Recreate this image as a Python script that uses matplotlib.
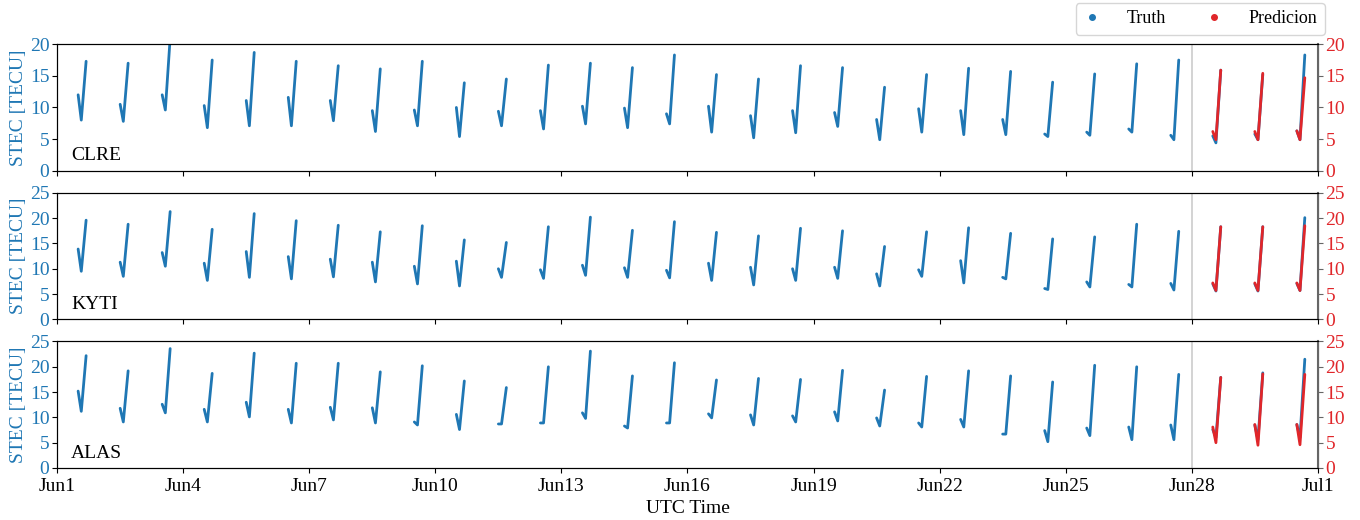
import matplotlib
matplotlib.use("Agg")
import matplotlib.pyplot as plt
from matplotlib.lines import Line2D
import numpy as np

plt.rcParams['font.family'] = ['Liberation Serif', 'DejaVu Serif']

######### data
########################################
stations = ["CLRE", "KYTI", "ALAS"]
ylims = [20, 25, 25]

# pass times inside each day (fraction of the day): start, dip, peak
pass_times = [0.50, 0.575, 0.69]

# truth arcs, one value per day (Jun1 .. Jun30)
clre_start = [12.0, 10.5, 12.0, 10.3, 11.1, 11.6, 11.1, 9.5, 9.6, 10.0,
              9.4, 9.5, 10.2, 9.9, 9.0, 10.2, 8.7, 9.5, 9.2, 8.1,
              9.8, 9.5, 8.1, 5.8, 6.1, 6.6, 5.6, 5.5, 5.8, 6.3]
clre_min = [8.0, 7.8, 9.6, 6.8, 7.1, 7.1, 7.9, 6.2, 7.1, 5.4,
            7.1, 6.6, 7.4, 6.8, 7.4, 6.1, 5.2, 6.0, 7.0, 4.9,
            6.1, 5.7, 5.7, 5.4, 5.6, 6.1, 4.9, 4.4, 4.9, 4.9]
clre_peak = [17.3, 17.0, 21.0, 17.5, 18.7, 17.3, 16.6, 16.1, 17.3, 13.9,
             14.5, 16.7, 17.0, 16.3, 18.3, 15.2, 14.5, 16.6, 16.3, 13.2,
             15.2, 16.2, 15.7, 14.0, 15.3, 16.9, 17.5, 15.9, 15.2, 18.3]

kyti_start = [13.9, 11.3, 13.2, 11.1, 13.4, 12.4, 11.9, 11.3, 10.5, 11.5,
              10.0, 9.8, 10.7, 10.2, 9.7, 11.1, 10.3, 10.0, 10.3, 9.0,
              9.8, 11.6, 8.3, 6.1, 7.4, 6.9, 7.1, 7.0, 7.0, 7.1]
kyti_min = [9.5, 8.5, 10.5, 7.7, 8.3, 8.0, 8.4, 7.4, 7.0, 6.6,
            8.3, 8.1, 8.7, 8.3, 8.2, 7.7, 6.8, 7.7, 8.1, 6.6,
            8.5, 7.2, 8.0, 5.9, 6.4, 6.4, 5.8, 5.6, 5.6, 5.7]
kyti_peak = [19.6, 18.8, 21.3, 17.8, 20.9, 19.5, 18.6, 17.3, 18.5, 15.7,
             15.2, 18.3, 20.2, 17.6, 19.3, 17.2, 16.5, 18.0, 17.5, 14.4,
             17.3, 18.1, 17.0, 15.9, 16.3, 18.8, 17.4, 18.3, 18.3, 20.1]

alas_start = [15.2, 11.8, 12.6, 11.6, 13.0, 11.6, 12.0, 11.9, 9.1, 10.6,
              8.7, 8.9, 10.9, 8.3, 8.9, 10.7, 10.5, 10.3, 11.1, 9.9,
              8.9, 9.6, 6.7, 7.4, 7.9, 8.1, 8.5, 7.6, 8.5, 8.6]
alas_min = [11.2, 9.1, 10.9, 9.1, 10.1, 8.9, 9.5, 8.9, 8.5, 7.6,
            8.7, 8.9, 9.8, 7.9, 8.9, 9.9, 8.5, 9.1, 9.3, 8.3,
            8.1, 8.1, 6.7, 5.2, 6.4, 5.6, 5.6, 6.0, 5.6, 6.0]
alas_peak = [22.2, 19.2, 23.6, 18.7, 22.7, 20.7, 20.7, 19.0, 20.2, 17.2,
             15.9, 20.0, 23.1, 18.2, 20.8, 17.4, 17.7, 17.5, 19.3, 15.4,
             18.1, 19.2, 18.2, 17.0, 20.3, 20.0, 18.5, 17.9, 18.8, 21.5]

# prediction arcs (Jun28 .. Jun30)
pred_days = [27, 28, 29]
clre_pred_start = [6.2, 6.2, 6.3]
clre_pred_min = [4.9, 4.9, 4.9]
clre_pred_peak = [15.9, 15.4, 14.7]
kyti_pred_start = [7.2, 7.2, 7.2]
kyti_pred_min = [5.7, 5.7, 5.7]
kyti_pred_peak = [18.3, 18.3, 18.5]
alas_pred_start = [8.1, 8.6, 8.6]
alas_pred_min = [5.0, 4.5, 4.6]
alas_pred_peak = [17.9, 18.6, 18.5]

truth = [(clre_start, clre_min, clre_peak),
         (kyti_start, kyti_min, kyti_peak),
         (alas_start, alas_min, alas_peak)]
pred = [(clre_pred_start, clre_pred_min, clre_pred_peak),
        (kyti_pred_start, kyti_pred_min, kyti_pred_peak),
        (alas_pred_start, alas_pred_min, alas_pred_peak)]

tick_days = [0, 3, 6, 9, 12, 15, 18, 21, 24, 27, 30]
tick_labels = ["Jun1", "Jun4", "Jun7", "Jun10", "Jun13", "Jun16",
               "Jun19", "Jun22", "Jun25", "Jun28", "Jul1"]
split_day = 27

BLUE = "tab:blue"
RED = "#e0262a"

#############################################
fig, axes = plt.subplots(3, 1, figsize=(13.6, 5.2), dpi=100, sharex=True)
fig.subplots_adjust(left=0.042, right=0.969, top=0.915, bottom=0.10, hspace=0.175)

for ax, name, ylim, arcs, parcs in zip(axes, stations, ylims, truth, pred):
    starts, mins, peaks = arcs
    for day in range(len(starts)):
        t = [day + p for p in pass_times]
        ax.plot(t, [starts[day], mins[day], peaks[day]], "-", color=BLUE,
                lw=2.0, solid_capstyle="round", solid_joinstyle="round")
    pstarts, pmins, ppeaks = parcs
    for i, day in enumerate(pred_days):
        t = [day + p for p in pass_times]
        ax.plot(t, [pstarts[i], pmins[i], ppeaks[i]], "-", color=RED,
                lw=2.0, solid_capstyle="round", solid_joinstyle="round")

    ax.axvline(split_day, color="0.8", lw=1.2)
    ax.set_xlim(0, 30)
    ax.set_ylim(0, ylim)
    yt = np.arange(0, ylim + 1, 5)
    ax.set_yticks(yt)
    ax.set_ylabel("STEC [TECU]", color=BLUE, fontsize=14, labelpad=2)
    ax.tick_params(axis="y", colors=BLUE, labelsize=14, pad=2)
    ax.tick_params(axis="y", which="both", color="black")
    ax.text(0.011, 0.05, name, transform=ax.transAxes, fontsize=14,
            ha="left", va="bottom")

    ax2 = ax.twinx()
    ax2.set_ylim(0, ylim)
    ax2.set_yticks(yt)
    ax2.tick_params(axis="y", colors="0.4", labelcolor=RED, labelsize=14, pad=2)
    ax2.spines["right"].set_color("0.4")
    ax2.spines["right"].set_linewidth(1.5)

axes[-1].set_xticks(tick_days)
axes[-1].set_xticklabels(tick_labels)
axes[-1].tick_params(axis="x", labelsize=14)
axes[-1].set_xlabel("UTC Time", fontsize=14, labelpad=4)

handles = [Line2D([], [], ls="", marker="o", ms=4, color=BLUE),
           Line2D([], [], ls="", marker="o", ms=4, color=RED)]
axes[0].legend(handles, ["Truth", "Predicion"], loc="lower right",
               bbox_to_anchor=(1.014, 0.99), ncol=2, fontsize=13,
               handlelength=1.0, columnspacing=2.2, handletextpad=1.4,
               borderaxespad=0.6)

plt.savefig("out.png", dpi=100)
